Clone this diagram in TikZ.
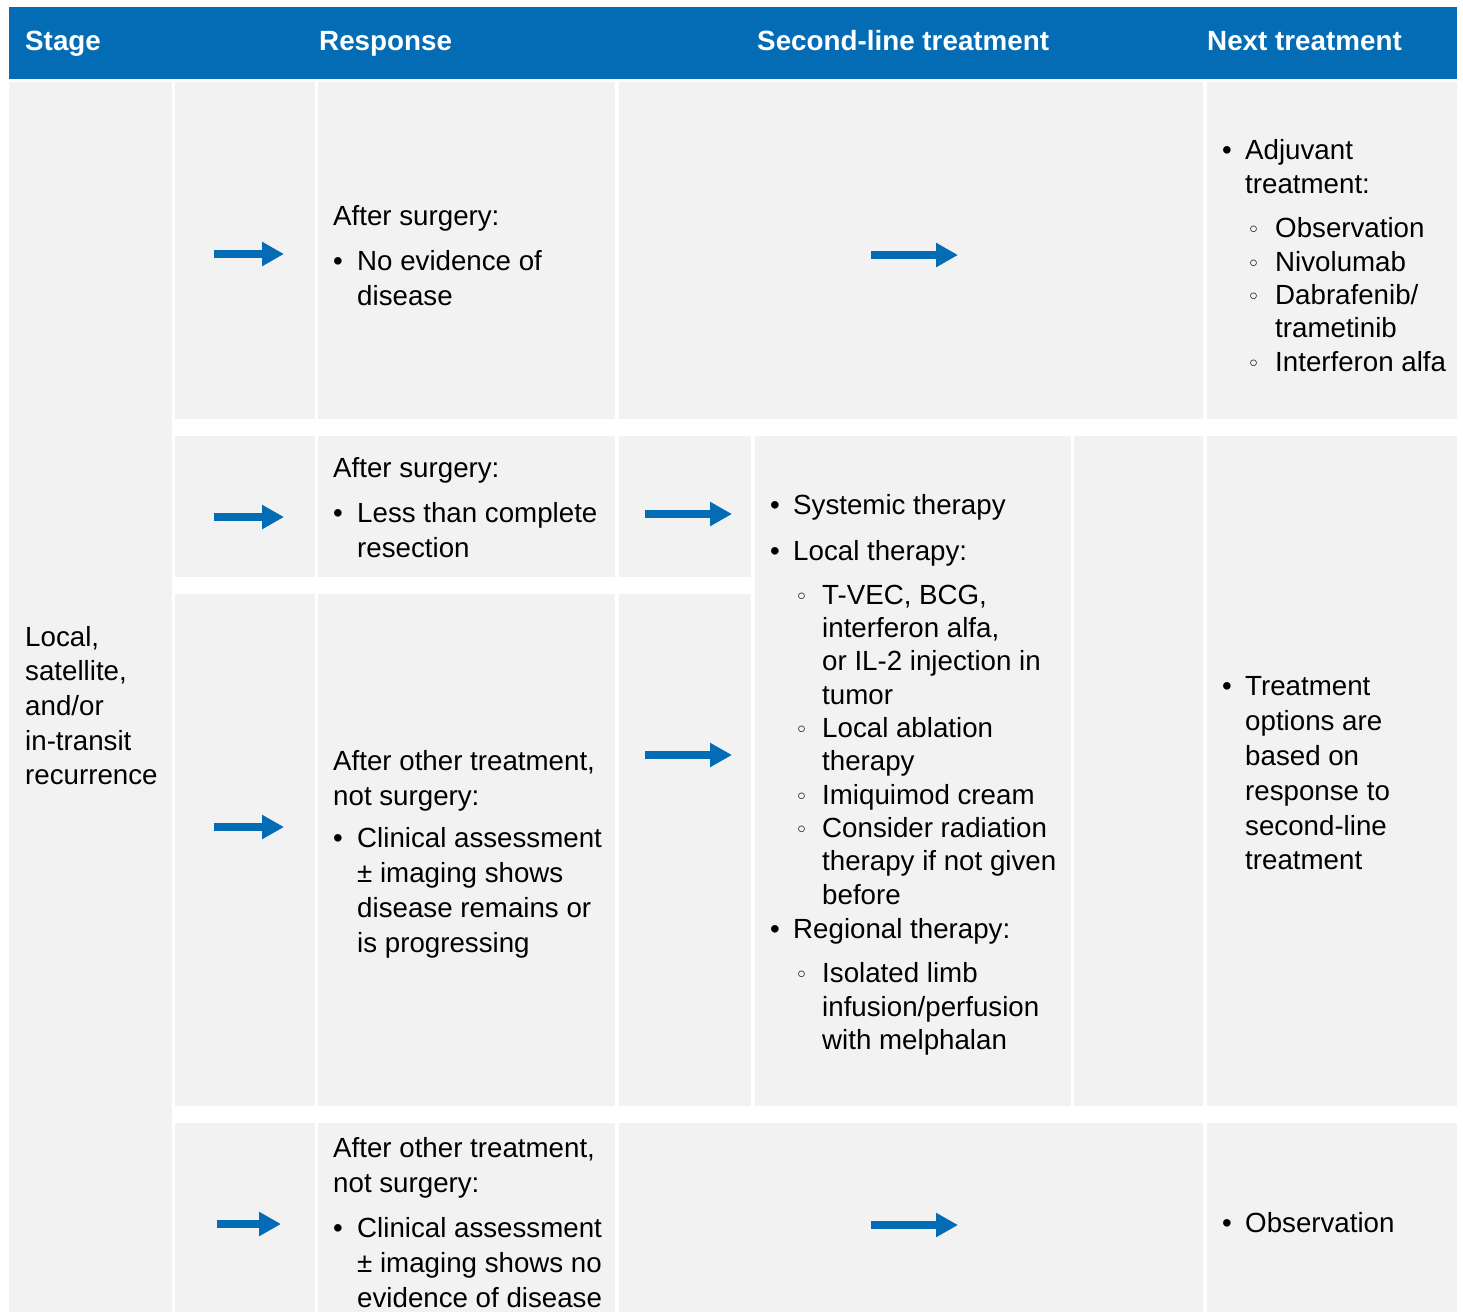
\documentclass[tikz,border=0pt]{standalone}
\usepackage{fontspec}
\setmainfont{Liberation Sans}
\newfontfamily\djv{DejaVu Sans}
\usetikzlibrary{arrows.meta}
\definecolor{hblue}{RGB}{3,108,181}
\definecolor{cellgray}{RGB}{242,242,242}
\newcommand\T[4]{\node[txt] (#1) at (#2,#3) {#4};}
\newcommand\B[3]{\node[txt] (#1) at (#2,#3) {•};}
\newcommand\SB[3]{\node[sbul] (#1) at (#2,#3) {◦};}
\newcommand\AR[5]{\coordinate (#1s) at (#2,#4); \coordinate (#1e) at (#3,#4); \draw[barr,line width=#5pt] (#1s) -- (#1e);}
\begin{document}
\begin{tikzpicture}[x=1pt,y=-1pt,
 cell/.style={fill=cellgray,draw=none},
 txt/.style={anchor=base west,inner sep=0pt,font=\fontsize{27.7}{34}\selectfont},
 htxt/.style={anchor=base west,inner sep=0pt,text=white,font=\fontsize{27.8}{34}\selectfont\bfseries},
 sbul/.style={anchor=base west,inner sep=0pt,font=\djv\fontsize{22}{24}\selectfont},
 barr/.style={draw=hblue,-{Triangle[length=22pt,width=23pt]}}]
\useasboundingbox (0,0) rectangle (1463,1312);
\fill[white] (0,0) rectangle (1463,1312);
% header
\fill[hblue] (9,7) rectangle (1457,79);
\node[htxt] (hstage) at (25,50) {Stage};
\node[htxt] (hresp) at (319,50) {Response};
\node[htxt] (hsec) at (757,50) {Second-line treatment};
\node[htxt] (hnext) at (1207,50) {Next treatment};
% cells
\fill[cell] (9,82) rectangle (172,1312);
\fill[cell] (175,82) rectangle (315,419);
\fill[cell] (318,82) rectangle (615,419);
\fill[cell] (619,82) rectangle (1203,419);
\fill[cell] (1207,82) rectangle (1457,419);
\fill[cell] (175,436) rectangle (315,577);
\fill[cell] (318,436) rectangle (615,577);
\fill[cell] (619,436) rectangle (751,577);
\fill[cell] (175,594) rectangle (315,1106);
\fill[cell] (318,594) rectangle (615,1106);
\fill[cell] (619,594) rectangle (751,1106);
\fill[cell] (755,436) rectangle (1071,1106);
\fill[cell] (1074,436) rectangle (1203,1106);
\fill[cell] (1207,436) rectangle (1457,1106);
\fill[cell] (175,1123) rectangle (315,1312);
\fill[cell] (318,1123) rectangle (615,1312);
\fill[cell] (619,1123) rectangle (1203,1312);
\fill[cell] (1207,1123) rectangle (1457,1312);
% stage
\T{s1}{25}{646}{Local,}
\T{s2}{25}{680}{satellite,}
\T{s3}{25}{715}{and/or}
\T{s4}{25}{750}{in-transit}
\T{s5}{25}{784}{recurrence}
% row 1 response
\T{r1a}{333}{225}{After surgery:}
\B{r1b}{333}{270}
\T{r1c}{357}{270}{No evidence of}
\T{r1d}{357}{305}{disease}
% row 1 next
\B{n1b}{1222}{159}
\T{n1a}{1245}{159}{Adjuvant}
\T{n1c}{1245}{193}{treatment:}
\SB{n1s1}{1247}{237}\T{n1d}{1275}{237}{Observation}
\SB{n1s2}{1247}{271}\T{n1e}{1275}{271}{Nivolumab}
\SB{n1s3}{1247}{304}\T{n1f}{1275}{304}{Dabrafenib/}
\T{n1g}{1275}{337}{trametinib}
\SB{n1s4}{1247}{371}\T{n1h}{1275}{371}{Interferon alfa}
% row 2 response
\T{r2a}{333}{477}{After surgery:}
\B{r2b}{333}{522}
\T{r2c}{357}{522}{Less than complete}
\T{r2d}{357}{557}{resection}
% second-line
\B{t1b}{770}{514}\T{t1}{793}{514}{Systemic therapy}
\B{t2b}{770}{560}\T{t2}{793}{560}{Local therapy:}
\SB{t3b}{795}{604}\T{t3}{822}{604}{T-VEC, BCG,}
\T{t4}{822}{637}{interferon alfa,}
\T{t5}{822}{670}{or IL-2 injection in}
\T{t6}{822}{704}{tumor}
\SB{t7b}{795}{737}\T{t7}{822}{737}{Local ablation}
\T{t8}{822}{770}{therapy}
\SB{t9b}{795}{804}\T{t9}{822}{804}{Imiquimod cream}
\SB{t10b}{795}{837}\T{t10}{822}{837}{Consider radiation}
\T{t11}{822}{870}{therapy if not given}
\T{t12}{822}{904}{before}
\B{t13b}{770}{938}\T{t13}{793}{938}{Regional therapy:}
\SB{t14b}{795}{982}\T{t14}{822}{982}{Isolated limb}
\T{t15}{822}{1016}{infusion/perfusion}
\T{t16}{822}{1049}{with melphalan}
% row 3 response
\T{r3a}{333}{770}{After other treatment,}
\T{r3b}{333}{805}{not surgery:}
\B{r3c}{333}{847}
\T{r3d}{357}{847}{Clinical assessment}
\T{r3e}{357}{882}{± imaging shows}
\T{r3f}{357}{917}{disease remains or}
\T{r3g}{357}{952}{is progressing}
% next rows 2-3
\B{n2b}{1222}{695}
\T{n2a}{1245}{695}{Treatment}
\T{n2c}{1245}{730}{options are}
\T{n2d}{1245}{765}{based on}
\T{n2e}{1245}{800}{response to}
\T{n2f}{1245}{835}{second-line}
\T{n2g}{1245}{869}{treatment}
% row 4
\T{r4a}{333}{1157}{After other treatment,}
\T{r4b}{333}{1192}{not surgery:}
\B{r4c}{333}{1237}
\T{r4d}{357}{1237}{Clinical assessment}
\T{r4e}{357}{1272}{± imaging shows no}
\T{r4f}{357}{1307}{evidence of disease}
\B{n4b}{1222}{1232}
\T{n4a}{1245}{1232}{Observation}
% arrows
\AR{a1}{214}{284}{254}{8}
\AR{a2}{871}{958}{255}{8}
\AR{a3}{214}{284}{517}{8}
\AR{a4}{645}{732}{514}{8}
\AR{a5}{214}{284}{827}{8}
\AR{a6}{645}{732}{755}{8}
\AR{a7}{217}{281}{1224}{8}
\AR{a8}{871}{958}{1225}{8}
\end{tikzpicture}
\end{document}
